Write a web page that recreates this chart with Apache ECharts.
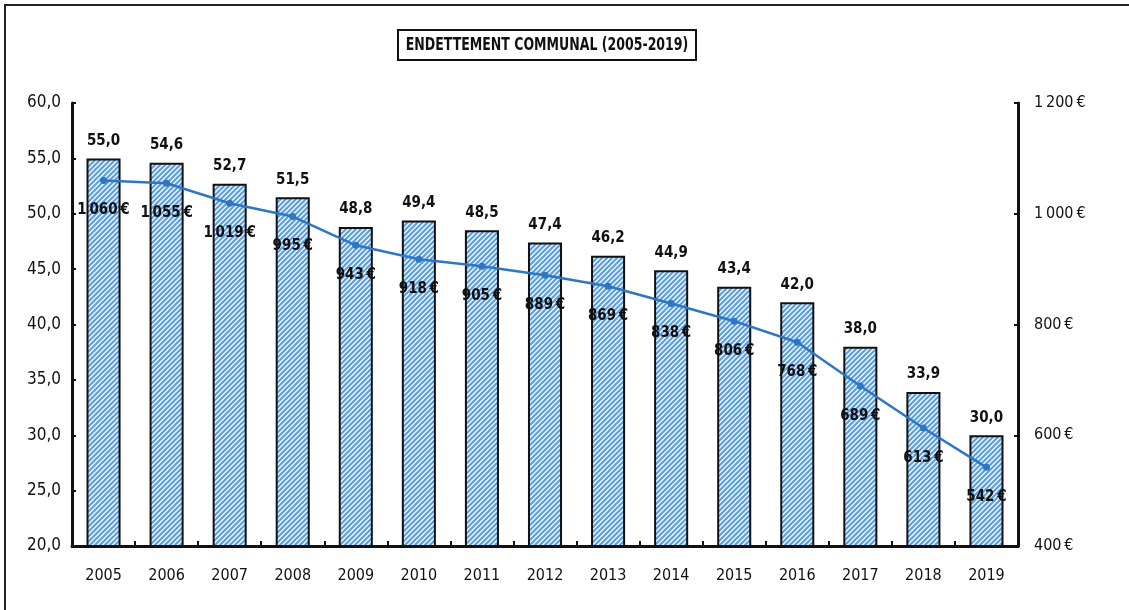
<!DOCTYPE html>
<html>
<head>
<meta charset="utf-8">
<script src="https://cdn.jsdelivr.net/npm/echarts@6/dist/echarts.min.js"></script>
<style>
  html, body { margin: 0; padding: 0; background: #fff; }
  #chart { width: 1129px; height: 610px; }
</style>
</head>
<body>
<div id="chart"></div>
<script>
// Endettement communal : encours (axe gauche) et dette par habitant (axe droit)
const years = ['2005','2006','2007','2008','2009','2010','2011','2012','2013','2014','2015','2016','2017','2018','2019'];
const encours = [55.0, 54.6, 52.7, 51.5, 48.8, 49.4, 48.5, 47.4, 46.2, 44.9, 43.4, 42.0, 38.0, 33.9, 30.0];
const detteParHabitant = [1060, 1055, 1019, 995, 943, 918, 905, 889, 869, 838, 806, 768, 689, 613, 542];
const titleText = 'ENDETTEMENT COMMUNAL (2005-2019)';

const FONT = '"Liberation Sans Narrow", "DejaVu Sans Condensed", sans-serif';

// Hachures diagonales bleues pour le remplissage des barres
function hatchPattern() {
  const n = 5;
  const c = document.createElement('canvas');
  c.width = n; c.height = n;
  const g = c.getContext('2d');
  g.fillStyle = '#eef5fc';
  g.fillRect(0, 0, n, n);
  g.strokeStyle = '#5a9ee2';
  g.lineWidth = 2;
  g.beginPath();
  g.moveTo(-1, n + 1); g.lineTo(n + 1, -1);
  g.moveTo(-1, 1); g.lineTo(1, -1);
  g.moveTo(n - 1, n + 1); g.lineTo(n + 1, n - 1);
  g.stroke();
  return c;
}

const fmtDec = v => v.toFixed(1).replace('.', ',');
const fmtEuro = (v, sep) => {
  const s = String(Math.round(v));
  return s.replace(/\B(?=(\d{3})+(?!\d))/g, sep) + sep + '€';
};

const chart = echarts.init(document.getElementById('chart'), null, { renderer: 'canvas' });
chart.setOption({
  animation: false,
  backgroundColor: '#ffffff',
  graphic: [{
    // cadre (bords haut et gauche)
    type: 'polyline',
    shape: { points: [[5, 610], [5, 5], [1129, 5]] },
    style: { fill: 'none', stroke: '#222', lineWidth: 2 },
    silent: true
  }, {
    // titre encadré
    type: 'group',
    x: 547, y: 45,
    children: [{
      type: 'rect',
      shape: { x: -149, y: -15, width: 298, height: 30 },
      style: { fill: '#fff', stroke: '#111', lineWidth: 2 }
    }, {
      type: 'text',
      scaleX: 0.82,
      style: {
        text: titleText,
        x: 0, y: 1,
        align: 'center', verticalAlign: 'middle',
        font: 'bold 17px ' + FONT,
        fill: '#111'
      }
    }]
  }],
  grid: { left: 72, right: 111, top: 103, bottom: 64 },
  xAxis: {
    type: 'category',
    data: years,
    axisLine: { lineStyle: { color: '#111', width: 3 } },
    axisTick: { show: true, inside: true, length: 5, lineStyle: { color: '#111', width: 2 } },
    axisLabel: { fontFamily: FONT, fontSize: 16, color: '#111', margin: 22 }
  },
  yAxis: [{
    type: 'value',
    min: 20, max: 60, interval: 5,
    axisLine: { show: true, lineStyle: { color: '#111', width: 3 } },
    axisTick: { show: true, inside: true, length: 4, lineStyle: { color: '#111', width: 2 } },
    splitLine: { show: false },
    axisLabel: { fontFamily: FONT, fontSize: 17, color: '#111', margin: 11, formatter: v => fmtDec(v) }
  }, {
    type: 'value',
    min: 400, max: 1200, interval: 200,
    axisLine: { show: true, lineStyle: { color: '#111', width: 3 } },
    axisTick: { show: true, inside: true, length: 4, lineStyle: { color: '#111', width: 2 } },
    splitLine: { show: false },
    axisLabel: { fontFamily: FONT, fontSize: 16, color: '#111', margin: 16, formatter: v => fmtEuro(v, '\u2009') }
  }],
  series: [{
    type: 'bar',
    data: encours,
    yAxisIndex: 0,
    barWidth: '54%',
    itemStyle: {
      color: { image: hatchPattern(), repeat: 'repeat' },
      borderColor: '#111',
      borderWidth: 2
    },
    label: {
      show: true, position: 'top', distance: 10,
      fontFamily: FONT, fontSize: 15, fontWeight: 'bold', color: '#111',
      formatter: p => fmtDec(p.value)
    },
    z: 2
  }, {
    type: 'line',
    data: detteParHabitant,
    yAxisIndex: 1,
    symbol: 'circle',
    symbolSize: 7,
    lineStyle: { color: '#2f76c0', width: 2.5 },
    itemStyle: { color: '#2f76c0' },
    label: {
      show: true, position: 'bottom', distance: 19,
      fontFamily: FONT, fontSize: 15, fontWeight: 'bold', color: '#111',
      formatter: p => fmtEuro(p.value, '\u202F')
    },
    z: 3
  }]
});
</script>
</body>
</html>
